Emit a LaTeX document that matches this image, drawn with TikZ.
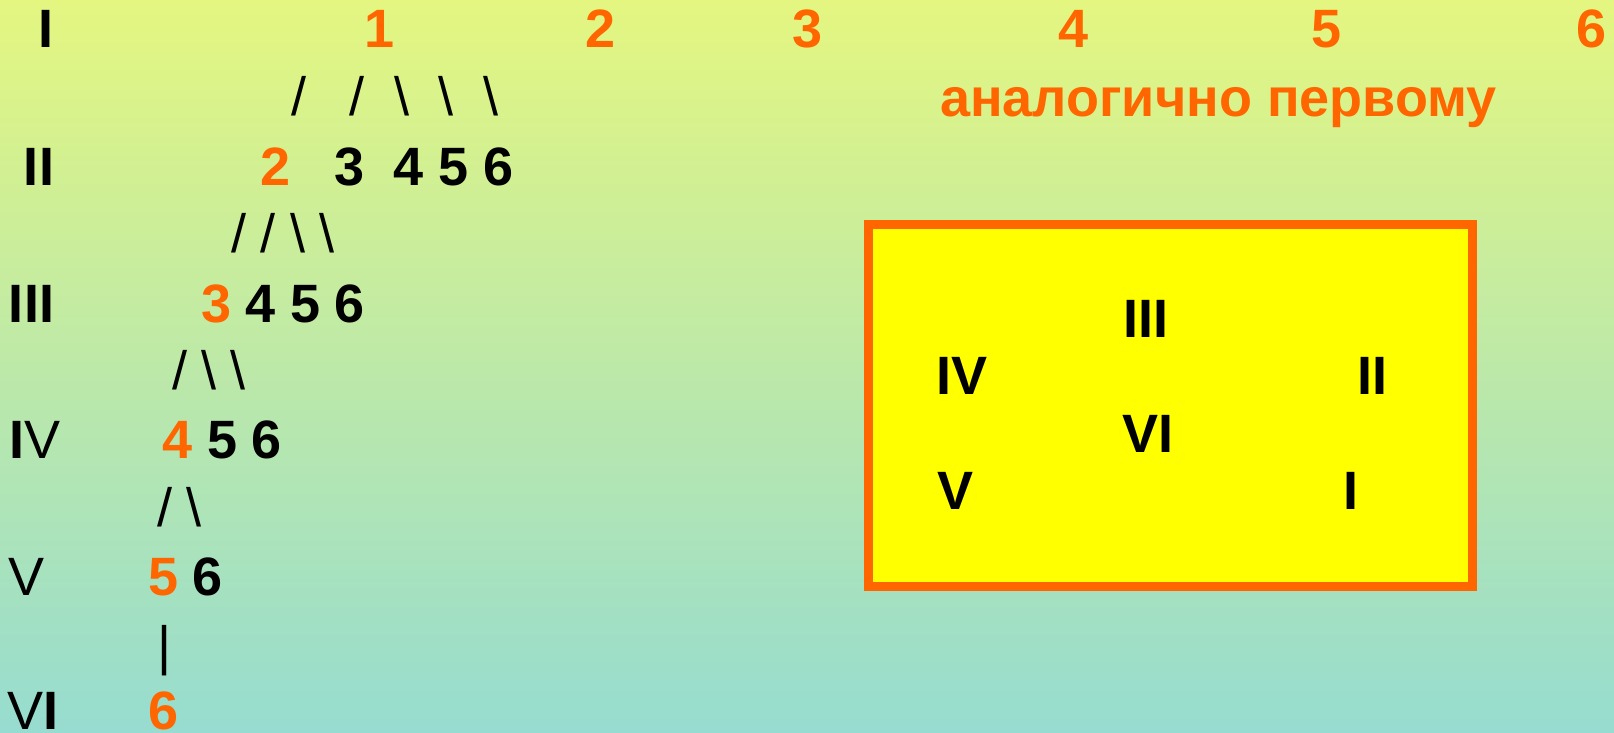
\documentclass[tikz,border=0pt]{standalone}
\usepackage{fontspec}
\setmainfont{Liberation Sans}
\definecolor{hot}{HTML}{FF6600}
\definecolor{bgtop}{RGB}{228,246,128}
\definecolor{bgbot}{RGB}{150,220,208}
\definecolor{boardfill}{RGB}{255,255,0}
\begin{document}
\begin{tikzpicture}[x=1pt,y=-1pt,
  lbl/.style={inner sep=0pt, anchor=base, font=\fontsize{54}{60}\selectfont},
  dig/.style={lbl, font=\fontsize{54}{60}\selectfont\bfseries},
  pick/.style={dig, text=hot},
  link/.style={lbl},
  board/.style={draw=hot, fill=boardfill, line width=9pt, inner sep=0pt, outer sep=0pt,
    minimum width=604pt, minimum height=362pt, anchor=north west}]
% background
\fill[top color=bgtop, bottom color=bgbot] (0,0) rectangle (1614,733);
\useasboundingbox (0,0) rectangle (1614,733);

% level labels
\node[dig]  (lvI)   at (46,48)    {I};
\node[dig]  (lvII)  at (39,185)   {II};
\node[dig]  (lvIII) at (31.5,322) {III};
\node[lbl]  (lvIV)  at (35.5,458) {{\bfseries I}V};
\node[lbl]  (lvV)   at (26.5,595) {V};
\node[lbl]  (lvVI)  at (33,729.5) {V{\bfseries I}};

% first row of numbers
\node[pick] (t1) at (379.5,48) {1};
\node[pick] (t2) at (601,48)  {2};
\node[pick] (t3) at (808,48)  {3};
\node[pick] (t4) at (1074,48) {4};
\node[pick] (t5) at (1326,48) {5};
\node[pick] (t6) at (1591,48) {6};
\node[pick] (same) at (1218.5,117) {аналогично первому};

% branches from 1
\node[link] (s11) at (298.5,116) {/};
\node[link] (s12) at (357,116)   {/};
\node[link] (s13) at (401.5,116) {\textbackslash};
\node[link] (s14) at (446,116)   {\textbackslash};
\node[link] (s15) at (490.5,116) {\textbackslash};

% level II
\node[pick] (a2) at (275.5,185) {2};
\node[dig]  (a3) at (350,185)   {3};
\node[dig]  (a4) at (409,185)   {4};
\node[dig]  (a5) at (453.5,185) {5};
\node[dig]  (a6) at (498.5,185) {6};

\node[link] (s21) at (238.5,252) {/};
\node[link] (s22) at (267.5,252) {/};
\node[link] (s23) at (297.5,252) {\textbackslash};
\node[link] (s24) at (327,252)   {\textbackslash};

% level III
\node[pick] (b3) at (217,322)   {3};
\node[dig]  (b4) at (261,322)   {4};
\node[dig]  (b5) at (305.5,322) {5};
\node[dig]  (b6) at (350,322)   {6};

\node[link] (s31) at (179.5,389) {/};
\node[link] (s32) at (208.5,389) {\textbackslash};
\node[link] (s33) at (238,389)   {\textbackslash};

% level IV
\node[pick] (c4) at (178,458) {4};
\node[dig]  (c5) at (223,458) {5};
\node[dig]  (c6) at (267,458) {6};

\node[link] (s41) at (164.5,526) {/};
\node[link] (s42) at (194,526)   {\textbackslash};

% level V
\node[pick] (d5) at (164,595) {5};
\node[dig]  (d6) at (208,595) {6};

\node[link] (s51) at (164.5,664) {|};

% level VI
\node[pick] (e6) at (163.5,729.5) {6};

% framed layout
\node[board] (frame) at (868,224.5) {};
\node[dig] (fIII) at (1146,337) {III};
\node[dig] (fIV)  at (962,394)  {IV};
\node[dig] (fII)  at (1372,394) {II};
\node[dig] (fVI)  at (1148,452) {VI};
\node[dig] (fV)   at (955,509)  {V};
\node[dig] (fI)   at (1351,509) {I};
\end{tikzpicture}
\end{document}
